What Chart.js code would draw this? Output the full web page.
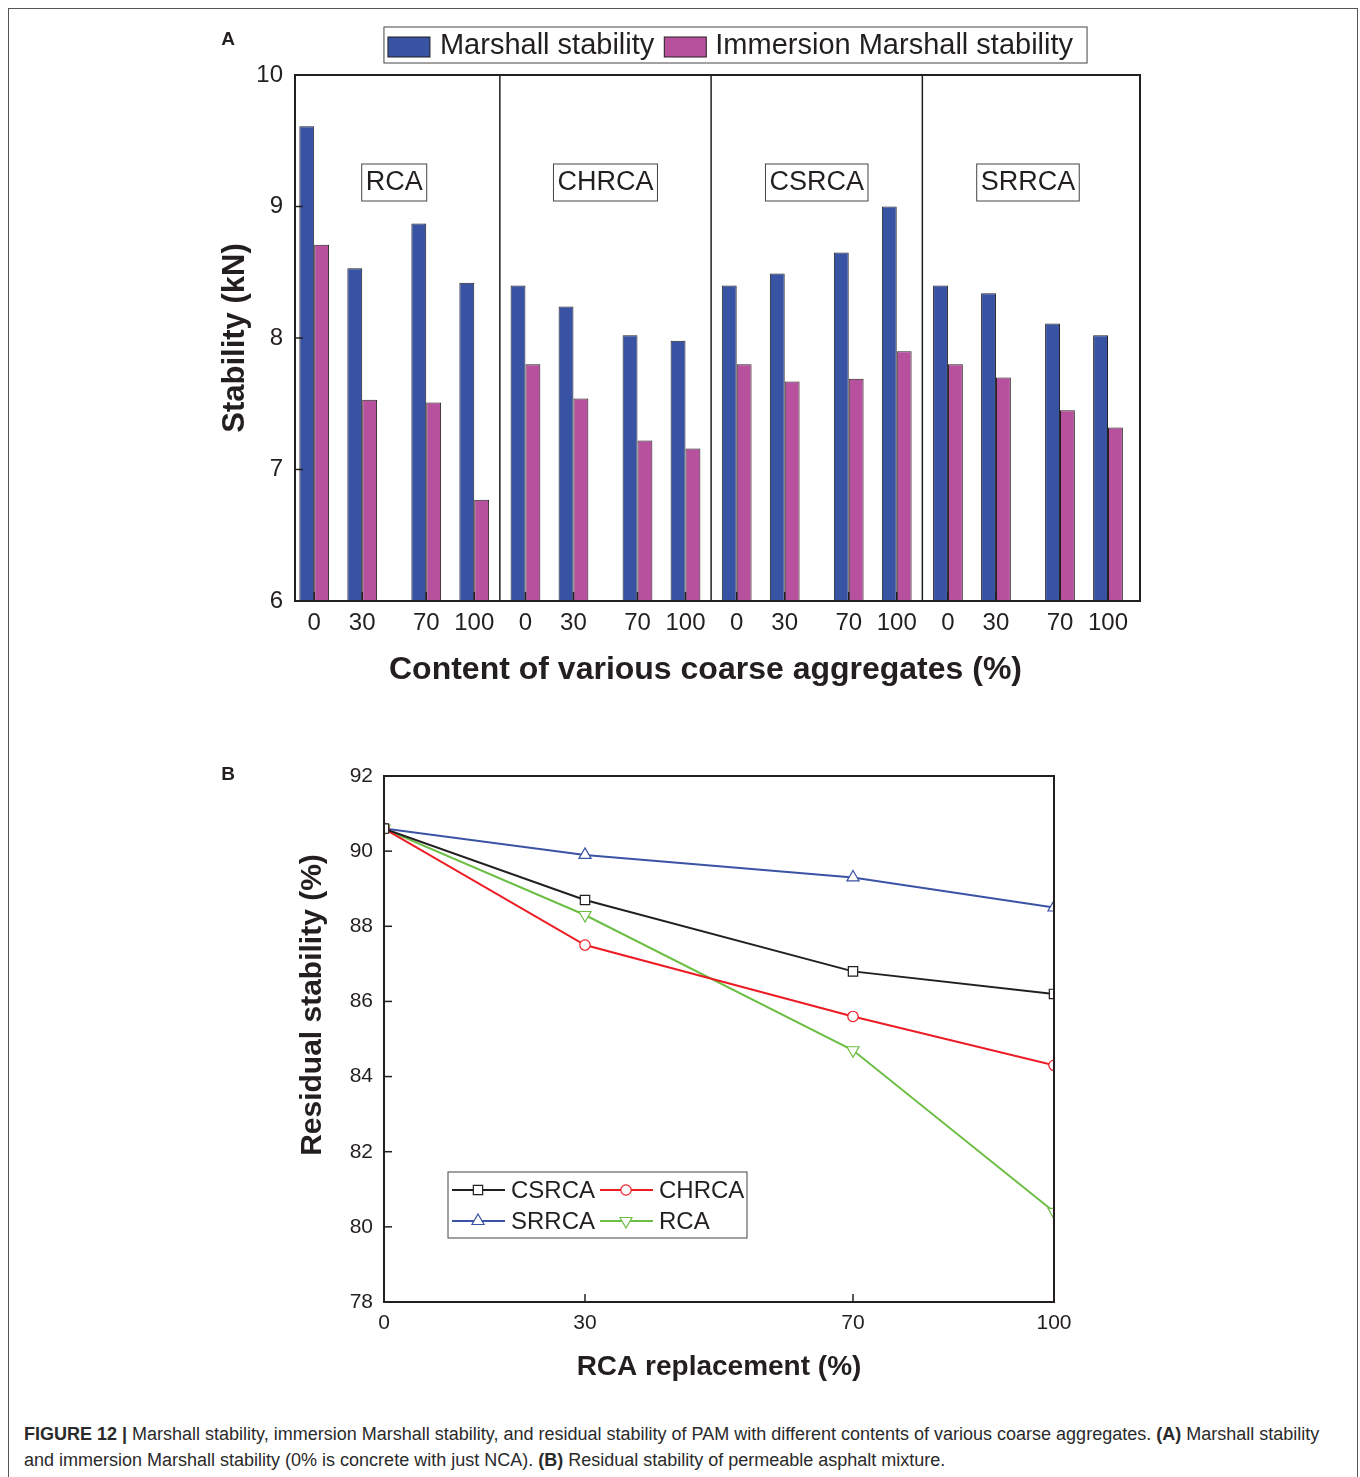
<!DOCTYPE html>
<html>
<head>
<meta charset="utf-8">
<script src="https://cdn.jsdelivr.net/npm/chart.js@4.4.0/dist/chart.umd.min.js"></script>
<style>
  html, body { margin: 0; padding: 0; background: #fff; }
  body { width: 1360px; height: 1477px; position: relative; overflow: hidden; font-family: "Liberation Sans", Arial, sans-serif; }
  #frame { position: absolute; left: 8px; top: 8px; width: 1348px; height: 1490px; border: 1px solid #555; border-bottom: none; }
  #chartA { position: absolute; left: 0; top: 0; }
  #chartB { position: absolute; left: 0; top: 700px; }
  #caption { position: absolute; left: 24px; top: 1421px; font-size: 18px; line-height: 26px; color: #2a2a2a; white-space: nowrap; }
</style>
</head>
<body>
<div id="frame"></div>
<canvas id="chartA" width="1360" height="688"></canvas>
<canvas id="chartB" width="1360" height="684"></canvas>
<div id="caption">
  <b>FIGURE 12 |</b> Marshall stability, immersion Marshall stability, and residual stability of PAM with different contents of various coarse aggregates. <b>(A)</b> Marshall stability<br>
  and immersion Marshall stability (0% is concrete with just NCA). <b>(B)</b> Residual stability of permeable asphalt mixture.
</div>
<script>
const INK = "#231F20";
const FONT = "'Liberation Sans', Arial, sans-serif";

// ---- panel A data
const groups = ["RCA", "CHRCA", "CSRCA", "SRRCA"];
const contents = [0, 30, 70, 100];
const marshall = [9.61, 8.53, 8.87, 8.42, 8.40, 8.24, 8.02, 7.98, 8.40, 8.49, 8.65, 9.00, 8.40, 8.34, 8.11, 8.02];
const immersion = [8.71, 7.53, 7.51, 6.77, 7.80, 7.54, 7.22, 7.16, 7.80, 7.67, 7.69, 7.90, 7.80, 7.70, 7.45, 7.32];

// ---- panel B data
const replacement = [0, 30, 70, 100];
const csrca = [90.6, 88.7, 86.8, 86.2];
const chrca = [90.6, 87.5, 85.6, 84.3];
const srrca = [90.6, 89.9, 89.3, 88.5];
const rca = [90.6, 88.3, 84.7, 80.4];

// each group of contents sits in its own slot on one linear axis
const SLOT = 132;
const EDGE = (SLOT - 100) / 2;
const SHIFT = 4;
const xPos = groups.flatMap((g, i) => contents.map(c => i * SLOT + c));

function line(ctx, x1, y1, x2, y2) {
  ctx.beginPath();
  ctx.moveTo(x1, y1);
  ctx.lineTo(x2, y2);
  ctx.stroke();
}

function marker(ctx, style, x, y, r, rot) {
  ctx.beginPath();
  if (style === "rect") {
    const s = r * Math.SQRT1_2;
    ctx.rect(x - s, y - s, 2 * s, 2 * s);
  } else if (style === "circle") {
    ctx.arc(x, y, r, 0, Math.PI * 2);
  } else {
    let a = (rot || 0) * Math.PI / 180;
    ctx.moveTo(x + Math.sin(a) * r, y - Math.cos(a) * r);
    for (let k = 0; k < 2; k++) {
      a += Math.PI * 2 / 3;
      ctx.lineTo(x + Math.sin(a) * r, y - Math.cos(a) * r);
    }
    ctx.closePath();
  }
  ctx.fillStyle = "#fff";
  ctx.fill();
  ctx.stroke();
}

// frame, inward ticks, panel boxes, legend of A
const panelA = {
  id: "panelA",
  afterDatasetsDraw(chart) {
    const { ctx, chartArea: a, scales: { x, y } } = chart;
    ctx.save();
    ctx.strokeStyle = INK;
    ctx.lineWidth = 1.5;
    y.ticks.forEach(t => {
      const py = y.getPixelForValue(t.value);
      line(ctx, a.left, py, a.left + 8, py);
    });
    x.ticks.forEach(t => {
      const px = x.getPixelForValue(t.value);
      line(ctx, px, a.bottom, px, a.bottom - 9);
    });
    for (let i = 1; i < groups.length; i++) {
      const px = x.getPixelForValue(i * SLOT - EDGE);
      line(ctx, px, a.top, px, a.bottom);
    }
    ctx.lineWidth = 2;
    ctx.strokeRect(a.left, a.top, a.width, a.height);

    // group names
    ctx.font = "27px " + FONT;
    ctx.textAlign = "center";
    ctx.textBaseline = "middle";
    groups.forEach((g, i) => {
      const cx = x.getPixelForValue(i * SLOT + 50);
      const cy = a.top + 107;
      const w = ctx.measureText(g).width + 8;
      ctx.lineWidth = 1;
      ctx.strokeStyle = "#444";
      ctx.strokeRect(cx - w / 2, cy - 18, w, 37);
      ctx.fillStyle = INK;
      ctx.fillText(g, cx, cy + 1);
    });

    // x axis title
    ctx.font = "bold 32px " + FONT;
    ctx.fillText("Content of various coarse aggregates (%)", a.left + a.width / 2 - 12, 670);

    // legend
    const ds = chart.data.datasets;
    ctx.font = "29px " + FONT;
    ctx.textAlign = "left";
    const tw = ds.map(d => ctx.measureText(d.label).width);
    const boxW = 4 + 42 + 10 + tw[0] + 10 + 42 + 9 + tw[1] + 14;
    const bx = a.left + a.width / 2 + 18 - boxW / 2;
    const by = 27;
    ctx.lineWidth = 1;
    ctx.strokeStyle = "#444";
    ctx.strokeRect(bx, by, boxW, 36);
    let cx = bx + 4;
    ds.forEach((d, i) => {
      ctx.fillStyle = d.backgroundColor;
      ctx.fillRect(cx, by + 10, 42, 20);
      ctx.strokeStyle = INK;
      ctx.strokeRect(cx, by + 10, 42, 20);
      cx += 42 + (i === 0 ? 10 : 9);
      ctx.fillStyle = INK;
      ctx.fillText(d.label, cx, by + 19);
      cx += tw[i] + 10;
    });

    ctx.font = "bold 19px " + FONT;
    ctx.textAlign = "center";
    ctx.fillText("A", 228, 40);
    ctx.restore();
  }
};

new Chart(document.getElementById("chartA"), {
  type: "bar",
  data: {
    datasets: [
      {
        label: "Marshall stability",
        data: xPos.map((v, i) => ({ x: v, y: marshall[i] })),
        backgroundColor: "#3953A4",
        borderColor: INK,
        borderWidth: 1,
        categoryPercentage: 0.62,
        barPercentage: 1
      },
      {
        label: "Immersion Marshall stability",
        data: xPos.map((v, i) => ({ x: v, y: immersion[i] })),
        backgroundColor: "#B8519D",
        borderColor: INK,
        borderWidth: 1,
        categoryPercentage: 0.62,
        barPercentage: 1
      }
    ]
  },
  options: {
    responsive: false,
    animation: false,
    events: [],
    layout: { padding: { left: 217, right: 220, top: 75, bottom: 0 } },
    plugins: { legend: { display: false }, tooltip: { enabled: false } },
    scales: {
      x: {
        type: "linear",
        offset: false,
        min: -EDGE + SHIFT,
        max: (groups.length - 1) * SLOT + 100 + EDGE + SHIFT,
        grid: { display: false, drawTicks: false },
        border: { display: false },
        afterBuildTicks: s => { s.ticks = xPos.map(v => ({ value: v })); },
        afterFit: s => { s.height = 87; },
        ticks: {
          autoSkip: false,
          maxRotation: 0,
          padding: 8,
          color: INK,
          font: { family: FONT, size: 24 },
          callback: v => String(v % SLOT)
        },
        title: { display: false }
      },
      y: {
        min: 6,
        max: 10,
        grid: { display: false, drawTicks: false },
        border: { display: false },
        afterFit: s => { s.width = 78; },
        ticks: { stepSize: 1, padding: 12, color: INK, font: { family: FONT, size: 24 } },
        title: {
          display: true,
          text: "Stability (kN)",
          color: INK,
          padding: 0,
          font: { family: FONT, size: 31, weight: "bold" }
        }
      }
    }
  },
  plugins: [panelA]
});

// ---- panel B
const panelB = {
  id: "panelB",
  afterDatasetsDraw(chart) {
    const { ctx, chartArea: a, scales: { x, y } } = chart;
    ctx.save();
    ctx.strokeStyle = INK;
    ctx.lineWidth = 1.5;
    y.ticks.forEach(t => {
      const py = y.getPixelForValue(t.value);
      line(ctx, a.left, py, a.left + 8, py);
    });
    x.ticks.forEach(t => {
      const px = x.getPixelForValue(t.value);
      line(ctx, px, a.bottom, px, a.bottom - 8);
    });
    ctx.lineWidth = 2;
    ctx.strokeRect(a.left, a.top, a.width, a.height);

    // y axis title
    ctx.save();
    ctx.translate(313, a.top + a.height / 2 - 34);
    ctx.rotate(-Math.PI / 2);
    ctx.font = "bold 30px " + FONT;
    ctx.textAlign = "center";
    ctx.textBaseline = "middle";
    ctx.fillStyle = INK;
    ctx.fillText("Residual stability (%)", 0, 0);
    ctx.restore();

    // legend box
    const bx = a.left + 64, by = a.top + 396;
    ctx.fillStyle = "#fff";
    ctx.fillRect(bx, by, 299, 66);
    ctx.lineWidth = 1;
    ctx.strokeStyle = "#444";
    ctx.strokeRect(bx, by, 299, 66);
    ctx.font = "24px " + FONT;
    ctx.textAlign = "left";
    ctx.textBaseline = "middle";
    chart.data.datasets.forEach((d, i) => {
      const row = Math.floor(i / 2), col = i % 2;
      const lx = bx + 4 + col * 148;
      const ly = by + 18 + row * 31;
      ctx.strokeStyle = d.borderColor;
      ctx.lineWidth = 2;
      line(ctx, lx, ly, lx + 53, ly);
      ctx.lineWidth = 1.2;
      marker(ctx, d.pointStyle, lx + 26, ly, d.pointRadius, d.pointRotation);
      ctx.fillStyle = INK;
      ctx.fillText(d.label, lx + 59, ly + 1);
    });

    ctx.font = "bold 19px " + FONT;
    ctx.textAlign = "center";
    ctx.fillStyle = INK;
    ctx.fillText("B", 228, 75);
    ctx.restore();
  }
};

function series(label, data, color, style, radius, rotation) {
  return {
    label, data,
    borderColor: color,
    borderWidth: 2,
    pointStyle: style,
    pointRadius: radius,
    pointRotation: rotation || 0,
    pointBackgroundColor: "#fff",
    pointBorderColor: color,
    pointBorderWidth: 1.2,
    tension: 0
  };
}

new Chart(document.getElementById("chartB"), {
  type: "line",
  data: {
    labels: replacement,
    datasets: [
      series("CSRCA", replacement.map((v, i) => ({ x: v, y: csrca[i] })), INK, "rect", 6.6),
      series("CHRCA", replacement.map((v, i) => ({ x: v, y: chrca[i] })), "#ED1C24", "circle", 5.2),
      series("SRRCA", replacement.map((v, i) => ({ x: v, y: srrca[i] })), "#3A53A4", "triangle", 7),
      series("RCA", replacement.map((v, i) => ({ x: v, y: rca[i] })), "#6CBE45", "triangle", 7, 180)
    ]
  },
  options: {
    responsive: false,
    animation: false,
    events: [],
    layout: { padding: { left: 296, right: 306, top: 76, bottom: 0 } },
    plugins: { legend: { display: false }, tooltip: { enabled: false } },
    scales: {
      x: {
        type: "linear",
        min: 0,
        max: 100,
        grid: { display: false, drawTicks: false },
        border: { display: false },
        afterBuildTicks: s => { s.ticks = replacement.map(v => ({ value: v })); },
        afterFit: s => { s.height = 82; },
        ticks: { autoSkip: false, maxRotation: 0, padding: 9, color: INK, font: { family: FONT, size: 21 } },
        title: {
          display: true,
          text: "RCA replacement (%)",
          color: INK,
          padding: 0,
          font: { family: FONT, size: 28, weight: "bold" }
        }
      },
      y: {
        min: 78,
        max: 92,
        grid: { display: false, drawTicks: false },
        border: { display: false },
        afterFit: s => { s.width = 88; },
        ticks: { stepSize: 2, padding: 11, color: INK, font: { family: FONT, size: 21 } },
        title: { display: false }
      }
    }
  },
  plugins: [panelB]
});
</script>
</body>
</html>
